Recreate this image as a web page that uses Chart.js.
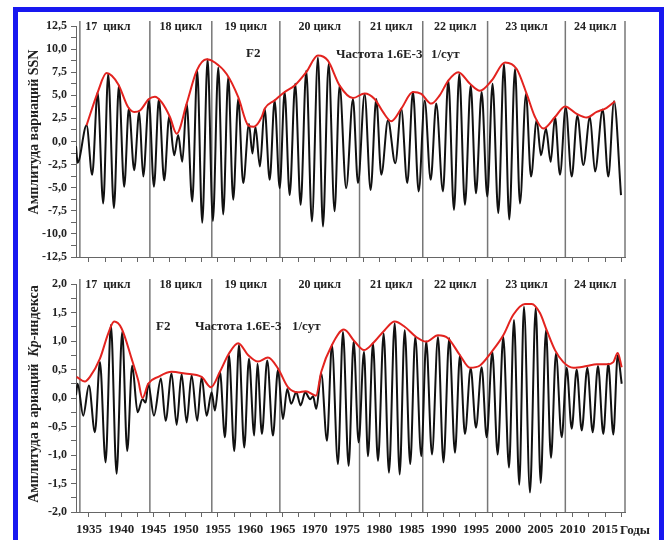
<!DOCTYPE html>
<html><head><meta charset="utf-8">
<script src="https://cdn.jsdelivr.net/npm/chart.js@4/dist/chart.umd.min.js"></script>
<style>
html,body{margin:0;padding:0;background:#fff;}
#wrap{position:relative;width:670px;height:540px;overflow:hidden;background:#fff;font-family:'Liberation Serif',serif;}
#frame{position:absolute;left:13px;top:7px;width:641px;height:560px;border:5px solid #1818f0;}
canvas{position:absolute;left:0;}
.t{position:absolute;font-weight:bold;font-size:13px;color:#222;white-space:nowrap;line-height:1;transform:translateY(-50%);}
.yt{position:absolute;font-weight:bold;font-size:14px;color:#222;white-space:nowrap;line-height:1;transform:translate(-50%,-50%) rotate(-90deg);}
</style></head>
<body>
<div id="wrap">
  <div id="frame"></div>
  <canvas id="c1" width="670" height="270" style="top:0"></canvas>
  <canvas id="c2" width="670" height="270" style="top:270px"></canvas>
  <div class="yt" style="left:34px;top:132px">Амплитуда вариаций SSN</div>
  <div class="yt" style="left:34px;top:394px">Амплитуда в ариаций&nbsp;&nbsp;<i>Kp</i>-индекса</div>
  <div class="t" style="left:246px;top:52px">F2</div>
  <div class="t" style="left:336px;top:53px">Частота 1.6E-3</div>
  <div class="t" style="left:431px;top:53px">1/сут</div>
  <div class="t" style="left:156px;top:325px">F2</div>
  <div class="t" style="left:195px;top:325px">Частота 1.6E-3</div>
  <div class="t" style="left:292px;top:325px">1/сут</div>
  <div class="t" style="left:620px;top:529px">Годы</div>
</div>
<script>
// ---- data ----
const ssnYears = [1933.0, 1933.25, 1934.64, 1935.51, 1936.35, 1937.22, 1937.99, 1938.88, 1939.65, 1940.47, 1941.2, 1942.02, 1942.8, 1943.42, 1944.3, 1945.08, 1945.85, 1946.67, 1947.45, 1948.22, 1948.84, 1949.47, 1950.15, 1951.02, 1951.79, 1952.57, 1953.4, 1954.22, 1955.05, 1955.82, 1956.6, 1957.37, 1958.15, 1958.92, 1959.81, 1960.35, 1960.81, 1961.51, 1962.24, 1963.02, 1963.79, 1964.57, 1965.34, 1966.12, 1966.98, 1967.82, 1968.69, 1969.57, 1970.5, 1971.28, 1972.16, 1973.08, 1973.86, 1974.88, 1975.93, 1976.71, 1977.74, 1978.67, 1979.54, 1980.33, 1981.36, 1982.49, 1983.42, 1984.35, 1985.23, 1986.12, 1987.05, 1987.98, 1988.84, 1989.88, 1990.71, 1991.59, 1992.41, 1993.29, 1994.18, 1995.0, 1995.88, 1996.75, 1997.57, 1998.46, 1999.34, 2000.16, 2001.05, 2001.82, 2002.75, 2003.53, 2004.41, 2005.08, 2005.85, 2006.58, 2007.25, 2008.02, 2008.91, 2009.84, 2010.71, 2011.64, 2012.67, 2013.45, 2014.64, 2015.51, 2016.4, 2017.48];
const ssnValues = [-0.5, -2.3, 1.75, -3.6, 5.3, -6.7, 7.3, -7.2, 6.05, -4.9, 3.6, -3.1, 3.2, -3.8, 4.45, -4.9, 4.6, -4.2, 2.7, -1.5, 0.7, -2.2, 4.1, -6.5, 7.7, -8.8, 8.9, -8.6, 8.0, -7.9, 6.95, -6.3, 4.6, -4.5, 1.9, -1.3, 1.6, -2.7, 3.55, -4.15, 4.45, -5.05, 5.35, -5.8, 6.25, -6.85, 7.65, -8.65, 9.1, -9.2, 8.4, -7.55, 6.05, -5.05, 4.6, -4.5, 5.15, -5.25, 4.6, -3.6, 2.3, -2.35, 3.55, -4.5, 5.35, -5.4, 4.45, -4.15, 4.1, -5.4, 6.6, -7.4, 7.3, -6.85, 6.05, -5.6, 5.35, -5.95, 6.25, -7.75, 8.4, -8.45, 7.85, -6.7, 5.15, -3.8, 2.3, -1.5, 1.4, -2.2, 2.65, -3.6, 3.7, -3.8, 2.8, -2.55, 2.65, -3.25, 3.45, -3.8, 4.35, -5.8];
const ssnEnvYears = [1934.64, 1936.35, 1937.74, 1939.54, 1941.09, 1942.02, 1942.91, 1944.3, 1945.23, 1946.27, 1947.56, 1948.6, 1950.15, 1951.7, 1953.25, 1954.53, 1956.35, 1958.15, 1959.7, 1960.58, 1961.78, 1962.24, 1963.79, 1965.34, 1966.89, 1968.69, 1970.5, 1972.05, 1973.87, 1975.93, 1977.74, 1979.29, 1980.58, 1981.87, 1983.42, 1985.23, 1986.52, 1988.07, 1989.37, 1990.71, 1992.26, 1994.07, 1995.62, 1997.43, 1999.5, 2001.31, 2002.86, 2004.15, 2005.43, 2007.25, 2008.8, 2010.61, 2012.16, 2013.71, 2015.26, 2016.55];
const ssnEnvValues = [1.75, 5.3, 7.4, 6.2, 3.7, 3.2, 3.35, 4.6, 4.85, 4.25, 2.65, 0.85, 4.1, 7.65, 8.9, 8.55, 7.3, 4.8, 1.75, 1.6, 2.65, 3.55, 4.45, 5.35, 6.05, 7.5, 9.3, 8.75, 6.05, 4.7, 5.2, 4.6, 3.2, 2.2, 3.55, 5.35, 5.15, 4.1, 5.0, 6.6, 7.5, 6.25, 5.5, 6.6, 8.55, 7.85, 5.15, 2.65, 1.4, 2.65, 3.8, 3.0, 2.6, 3.2, 3.65, 4.35];

const kpYears = [1933.0, 1933.25, 1934.12, 1935.0, 1935.93, 1936.71, 1937.59, 1938.41, 1939.29, 1940.16, 1940.94, 1941.71, 1942.55, 1943.3, 1943.8, 1944.19, 1945.08, 1946.16, 1946.89, 1947.82, 1948.6, 1949.37, 1950.15, 1950.92, 1951.79, 1952.47, 1953.25, 1954.02, 1954.53, 1955.31, 1956.09, 1956.71, 1957.53, 1958.26, 1959.08, 1959.81, 1960.63, 1961.12, 1961.82, 1962.64, 1963.53, 1964.3, 1965.08, 1965.74, 1966.36, 1967.14, 1967.82, 1968.53, 1969.3, 1969.75, 1970.24, 1971.02, 1971.9, 1972.67, 1973.6, 1974.38, 1975.26, 1976.04, 1976.81, 1977.64, 1978.26, 1979.03, 1979.81, 1980.69, 1981.51, 1982.4, 1983.17, 1983.95, 1984.81, 1985.59, 1986.52, 1987.29, 1988.18, 1989.11, 1989.96, 1990.86, 1991.74, 1992.52, 1993.29, 1994.18, 1995.0, 1995.88, 1996.66, 1997.53, 1998.36, 1999.23, 2000.12, 2000.89, 2001.71, 2002.44, 2003.37, 2004.26, 2005.03, 2005.85, 2006.63, 2007.4, 2008.29, 2009.06, 2009.84, 2010.61, 2011.39, 2012.26, 2013.09, 2013.91, 2014.74, 2015.51, 2016.29, 2016.97, 2017.59];
const kpValues = [0.05, 0.25, -0.31, 0.22, -0.6, 0.63, -1.13, 1.28, -1.33, 1.16, -0.93, 0.57, -0.25, -0.02, -0.08, 0.25, -0.31, 0.34, -0.4, 0.43, -0.47, 0.42, -0.43, 0.4, -0.4, 0.37, -0.31, 0.1, -0.22, 0.46, -0.69, 0.75, -0.93, 0.93, -0.87, 0.69, -0.66, 0.6, -0.63, 0.66, -0.66, 0.49, -0.37, 0.16, -0.1, 0.1, -0.13, 0.1, -0.02, 0.03, -0.19, 0.43, -0.75, 0.93, -1.16, 1.16, -1.19, 0.99, -0.78, 0.81, -1.02, 0.96, -1.1, 1.13, -1.31, 1.31, -1.34, 1.19, -1.16, 1.07, -1.02, 0.99, -0.99, 1.07, -1.13, 1.05, -0.96, 0.75, -0.63, 0.52, -0.52, 0.54, -0.69, 0.81, -0.99, 1.07, -1.22, 1.37, -1.52, 1.6, -1.66, 1.58, -1.49, 1.19, -1.05, 0.78, -0.69, 0.53, -0.54, 0.5, -0.57, 0.53, -0.6, 0.56, -0.63, 0.6, -0.64, 0.75, 0.25];
const kpEnvYears = [1933.09, 1934.38, 1935.16, 1936.71, 1937.99, 1938.92, 1940.07, 1941.62, 1942.64, 1943.31, 1944.19, 1945.74, 1947.82, 1949.88, 1952.47, 1953.91, 1955.31, 1956.71, 1958.15, 1959.7, 1961.2, 1962.75, 1964.3, 1965.85, 1967.4, 1968.6, 1970.2, 1971.02, 1972.67, 1974.53, 1976.19, 1977.64, 1979.03, 1980.84, 1982.4, 1983.95, 1985.74, 1987.29, 1989.11, 1990.66, 1992.52, 1994.07, 1995.62, 1997.43, 1999.23, 2000.78, 2002.6, 2003.64, 2004.92, 2005.96, 2007.25, 2008.54, 2010.09, 2012.16, 2013.71, 2015.26, 2016.29, 2016.97, 2017.59];
const kpEnvValues = [0.37, 0.29, 0.37, 0.69, 1.13, 1.34, 1.22, 0.69, 0.31, 0.0, 0.25, 0.37, 0.46, 0.43, 0.37, 0.19, 0.46, 0.78, 0.96, 0.75, 0.64, 0.71, 0.52, 0.19, 0.1, 0.12, 0.04, 0.46, 0.93, 1.2, 0.99, 0.84, 0.96, 1.19, 1.34, 1.25, 1.07, 0.99, 1.1, 1.05, 0.75, 0.53, 0.57, 0.81, 1.1, 1.46, 1.65, 1.65, 1.49, 1.19, 0.84, 0.63, 0.53, 0.56, 0.59, 0.59, 0.63, 0.79, 0.54];

const cycleStarts = [1933.6, 1944.45, 1954.05, 1964.6, 1976.95, 1986.75, 1996.8, 2008.85];
const cycleNames = ['17  цикл', '18 цикл', '19 цикл', '20 цикл', '21 цикл', '22 цикл', '23 цикл', '24 цикл'];
const yearTicks = [1935, 1940, 1945, 1950, 1955, 1960, 1965, 1970, 1975, 1980, 1985, 1990, 1995, 2000, 2005, 2010, 2015];

// ---- styles ----
const X_MIN = 1933, X_MAX = 2018.1;
const labelShift = [-7, 0, 0, 0, 0, 0, 0, 0];
const tickFont = {family: "'Liberation Serif', serif", size: 12, weight: 'bold'};
const axisColor = '#666';
const black = '#111111', red = '#e3231f';

function pts(xs, ys) { return xs.map((x, i) => ({x: x, y: ys[i]})); }

const cyclePlugin = {
  id: 'cycles',
  beforeDatasetsDraw(chart) {
    const ctx = chart.ctx, a = chart.chartArea, x = chart.scales.x;
    ctx.save();
    ctx.strokeStyle = '#777';
    ctx.lineWidth = 1.5;
    const lines = cycleStarts.concat([X_MAX]);
    lines.forEach(v => {
      const px = x.getPixelForValue(v);
      ctx.beginPath(); ctx.moveTo(px, a.top - 5); ctx.lineTo(px, a.bottom); ctx.stroke();
    });
    ctx.restore();
  },
  afterDatasetsDraw(chart) {
    const ctx = chart.ctx, a = chart.chartArea, x = chart.scales.x;
    ctx.save();
    ctx.font = "bold 12px 'Liberation Serif', serif";
    ctx.fillStyle = '#222';
    ctx.textAlign = 'center';
    ctx.textBaseline = 'middle';
    cycleNames.forEach((n, i) => {
      const s = cycleStarts[i], e = i + 1 < cycleStarts.length ? cycleStarts[i + 1] : X_MAX;
      const px = (x.getPixelForValue(s) + x.getPixelForValue(e)) / 2 + labelShift[i];
      ctx.fillText(n, px, a.top + 1);
    });
    ctx.restore();
  }
};

function isYearLabel(v) {
  const r = Math.round(v);
  return Math.abs(r - v) < 1e-6 && yearTicks.indexOf(r) >= 0;
}

function makeChart(id, opt) {
  return new Chart(document.getElementById(id), {
    type: 'line',
    data: {
      datasets: [
        {data: pts(opt.xs, opt.ys), borderColor: black, borderWidth: 2, pointRadius: 0, cubicInterpolationMode: 'monotone', fill: false, order: 2},
        {data: pts(opt.ex, opt.ey), borderColor: red, borderWidth: 2, pointRadius: 0, cubicInterpolationMode: 'monotone', fill: false, order: 1}
      ]
    },
    options: {
      responsive: false, animation: false, devicePixelRatio: 1,
      layout: {padding: {top: opt.padTop, right: 45, left: 0, bottom: 0}},
      plugins: {legend: {display: false}, tooltip: {enabled: false}},
      scales: {
        x: {
          type: 'linear', min: X_MIN, max: X_MAX,
          afterFit(s) { s.height = opt.xHeight; },
          border: {color: axisColor, width: 1},
          grid: {drawOnChartArea: false, drawTicks: true, tickLength: 5, color: axisColor},
          ticks: {stepSize: 2.5, includeBounds: false, autoSkip: false, maxRotation: 0, padding: 5,
            color: '#222', font: {family: "'Liberation Serif', serif", size: 13, weight: 'bold'},
            callback: v => (opt.showX && isYearLabel(v)) ? String(Math.round(v)) : ''}
        },
        y: {
          min: opt.yMin, max: opt.yMax,
          afterFit(s) { s.width = 76; },
          border: {color: axisColor, width: 1},
          grid: {drawOnChartArea: false, drawTicks: true, tickLength: 5, color: axisColor},
          ticks: {stepSize: opt.yStep / 2, includeBounds: false, autoSkip: false, padding: 4, color: '#222', font: tickFont,
            callback: v => {
              const k = v / opt.yStep;
              return Math.abs(k - Math.round(k)) < 1e-6 ? v.toFixed(1).replace('.', ',') : '';
            }}
        }
      }
    },
    plugins: [cyclePlugin]
  });
}

makeChart('c1', {xs: ssnYears, ys: ssnValues, ex: ssnEnvYears, ey: ssnEnvValues,
  yMin: -12.5, yMax: 12.5, yStep: 2.5, padTop: 26, xHeight: 13, showX: false});
makeChart('c2', {xs: kpYears, ys: kpValues, ex: kpEnvYears, ey: kpEnvValues,
  yMin: -2, yMax: 2, yStep: 0.5, padTop: 14, xHeight: 28, showX: true});
</script>
</body></html>
